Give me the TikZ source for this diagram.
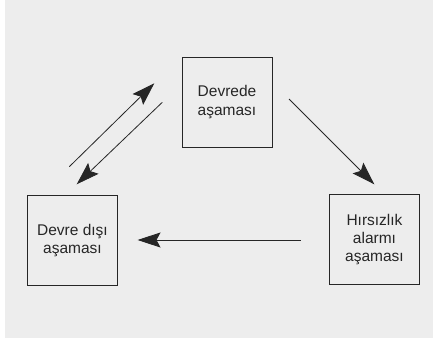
\documentclass[tikz,border=0pt]{standalone}
\usepackage{fontspec}
\setmainfont{Liberation Sans}
\usetikzlibrary{arrows.meta}
\definecolor{bg}{HTML}{EDEDED}
\definecolor{ink}{HTML}{262626}
\begin{document}
\begin{tikzpicture}[x=1pt,y=-1pt,
  stagebox/.style={draw=ink,line width=1pt,minimum width=90pt,minimum height=90pt,inner sep=0pt,align=center,
    font=\fontsize{15.5}{18.3}\selectfont,text=ink},
  flow/.style={draw=ink,line width=0.8pt,-{Stealth[length=23pt,width=15pt,inset=4pt]}}]
\useasboundingbox (0,0) rectangle (433,340);
\fill[bg] (5,0) rectangle (433,338);
\node[stagebox] (on) at (227,102) {Devrede\\aşaması};
\node[stagebox] (off) at (72.5,240.5) {Devre dışı\\aşaması};
\node[stagebox] (alarm) at (374.5,239.5) {Hırsızlık\\alarmı\\aşaması};
\coordinate (a1) at (69.3,166.7);
\coordinate (a2) at (154.3,83.3);
\coordinate (b1) at (162.3,102.3);
\coordinate (b2) at (76.7,184.3);
\coordinate (c1) at (289,99);
\coordinate (c2) at (374.3,184.3);
\coordinate (d1) at (300.7,240);
\coordinate (d2) at (137.5,240);
\draw[flow] (a1) -- (a2);
\draw[flow] (b1) -- (b2);
\draw[flow] (c1) -- (c2);
\draw[flow] (d1) -- (d2);
\end{tikzpicture}
\end{document}
